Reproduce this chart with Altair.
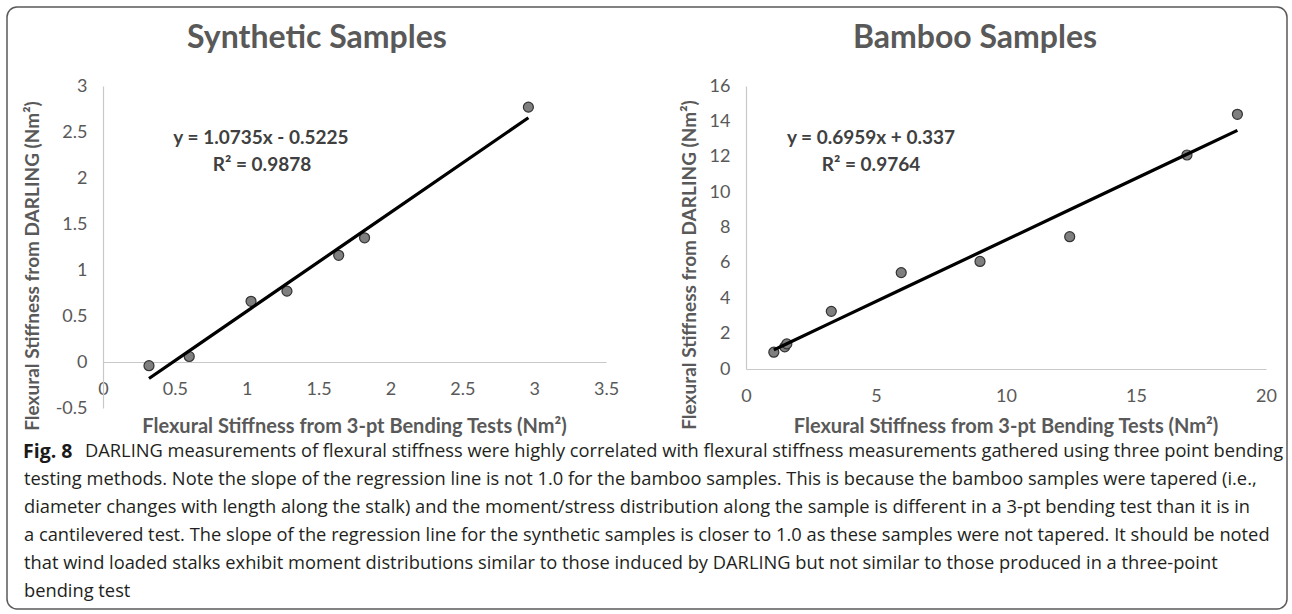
import altair as alt
import pandas as pd

# ---------------- data ----------------
syn_x = [0.32, 0.60, 1.03, 1.28, 1.64, 1.82, 2.96]
syn_y = [-0.04, 0.06, 0.66, 0.77, 1.16, 1.35, 2.77]
syn_coef = [1.0735, -0.5225]

bam_x = [1.07, 1.49, 1.57, 3.28, 5.97, 9.00, 12.45, 16.96, 18.90]
bam_y = [0.95, 1.25, 1.42, 3.26, 5.45, 6.08, 7.48, 12.10, 14.40]
bam_coef = [0.6959, 0.337]

syn_title = "Synthetic Samples"
bam_title = "Bamboo Samples"
syn_eq = ["y = 1.0735x - 0.5225", "R² = 0.9878"]
bam_eq = ["y = 0.6959x + 0.337", "R² = 0.9764"]
x_axis_title = "Flexural Stiffness from 3-pt Bending Tests (Nm²)"
y_axis_title = "Flexural Stiffness from DARLING (Nm²)"

syn_x_ticks = [0, 0.5, 1, 1.5, 2, 2.5, 3, 3.5]
syn_y_ticks = [-0.5, 0, 0.5, 1, 1.5, 2, 2.5, 3]
bam_x_ticks = [0, 5, 10, 15, 20]
bam_y_ticks = [0, 2, 4, 6, 8, 10, 12, 14, 16]

fig_label = "Fig. 8"
caption_first = ("DARLING measurements of flexural stiffness were highly correlated with flexural "
                 "stiffness measurements gathered using three point bending")
caption_rest = [
    "testing methods. Note the slope of the regression line is not 1.0 for the bamboo samples. "
    "This is because the bamboo samples were tapered (i.e.,",
    "diameter changes with length along the stalk) and the moment/stress distribution along the "
    "sample is different in a 3-pt bending test than it is in",
    "a cantilevered test. The slope of the regression line for the synthetic samples is closer to "
    "1.0 as these samples were not tapered. It should be noted",
    "that wind loaded stalks exhibit moment distributions similar to those induced by DARLING but "
    "not similar to those produced in a three-point",
    "bending test",
]

# ---------------- styling ----------------
FONT = "Lato"
CAP_FONT = "Open Sans"
GREY_TXT = "#595959"
AXIS_LINE = "#c8c8c8"
CAP_SIZE = 18.3
one = pd.DataFrame({"k": [0]})


def txt(s, x, y, size, weight="bold", color=GREY_TXT, font=FONT, align="center",
        angle=0, baseline="middle"):
    kw = dict(font=font, fontSize=size, fontWeight=weight, color=color,
              align=align, baseline=baseline)
    if angle:
        kw["angle"] = angle
    return alt.Chart(one).mark_text(**kw).encode(
        x=alt.value(x), y=alt.value(y), text=alt.value(s))


def panel(xs, ys, coef, xdom, ydom, xticks, yticks, xoff):
    df = pd.DataFrame({"x": xs, "y": ys})
    xax = alt.Axis(values=xticks, ticks=False, tickSize=0, grid=False,
                   domainColor=AXIS_LINE, domainWidth=1.2,
                   labelFont=FONT, labelFontSize=18, labelColor=GREY_TXT,
                   labelPadding=18, labelFlush=False, labelOverlap=False,
                   labelExpr="'' + datum.value", offset=xoff, title=None)
    yax = alt.Axis(values=yticks, ticks=False, tickSize=0, grid=False,
                   domainColor=AXIS_LINE, domainWidth=1.2,
                   labelFont=FONT, labelFontSize=18, labelColor=GREY_TXT,
                   labelPadding=16, labelFlush=False, labelOverlap=False,
                   labelExpr="'' + datum.value", title=None)
    xs_ = alt.Scale(domain=xdom, nice=False, zero=False)
    ys_ = alt.Scale(domain=ydom, nice=False, zero=False)
    base = alt.Chart(df)
    pts = base.mark_circle(size=100, color="#7f7f7f", stroke="#333333",
                           strokeWidth=1.2, opacity=1).encode(
        x=alt.X("x:Q", scale=xs_, axis=xax),
        y=alt.Y("y:Q", scale=ys_, axis=yax))
    line = base.transform_calculate(
        fit=f"{coef[0]} * datum.x + ({coef[1]})"
    ).mark_line(color="black", strokeWidth=3.2).encode(
        x=alt.X("x:Q", scale=xs_, axis=xax),
        y=alt.Y("fit:Q", scale=ys_, axis=yax))
    return pts, line


# ---------------- left panel ----------------
LW, LH = 503, 322
l_pts, l_line = panel(syn_x, syn_y, syn_coef, [0, 3.5], [-0.5, 3],
                      syn_x_ticks, syn_y_ticks, -LH * 0.5 / 3.5)

frame = alt.Chart(one).mark_rect(cornerRadius=10, fillOpacity=0, stroke="#5a5a5a",
                                 strokeWidth=1.5).encode(
    x=alt.value(-96), x2=alt.value(1184), y=alt.value(-79), y2=alt.value(523))

cap_layers = [txt(fig_label, -80, 366, 19.5, weight="bold", color="#1a1a1a",
                  font=CAP_FONT, align="left"),
              txt(caption_first, -18, 366, CAP_SIZE, weight="normal", color="#231f20",
                  font=CAP_FONT, align="left")]
for i, line in enumerate(caption_rest):
    cap_layers.append(txt(line, -79, 394 + 28 * i, CAP_SIZE, weight="normal",
                          color="#231f20", font=CAP_FONT, align="left"))

left = alt.layer(
    frame, l_pts, l_line,
    txt(syn_title, 214, -48, 32),
    txt(syn_eq[0], 158, 52, 19, color="#404040"),
    txt(syn_eq[1], 159, 79, 19, color="#404040"),
    txt(y_axis_title, -70, 180, 19, angle=270),
    txt(x_axis_title, LW / 2, 341, 20),
    *cap_layers,
).properties(width=LW, height=LH)

# ---------------- right panel ----------------
RW, RH = 520, 283
r_pts, r_line = panel(bam_x, bam_y, bam_coef, [0, 20], [0, 16],
                      bam_x_ticks, bam_y_ticks, 0)
right = alt.layer(
    r_pts, r_line,
    txt(bam_title, 229, -48, 32),
    txt(bam_eq[0], 125, 52, 19, color="#404040"),
    txt(bam_eq[1], 125, 79, 19, color="#404040"),
    txt(y_axis_title, -56, 179, 19, angle=270),
    txt(x_axis_title, RW / 2, 341, 20),
).properties(width=RW, height=RH)

chart = alt.hconcat(left, right, spacing=140, bounds="flush").properties(
    padding={"left": 6, "top": 6, "right": 2, "bottom": 2},
    background="white",
).configure_view(strokeWidth=0)

chart.save("out.html", embed_options={"renderer": "svg", "actions": False})
